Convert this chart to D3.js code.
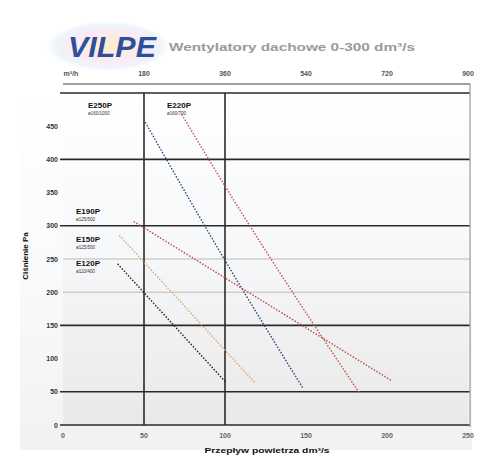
<!DOCTYPE html>
<html><head><meta charset="utf-8">
<script src="https://cdn.jsdelivr.net/npm/d3@7"></script>
<style>body{margin:0;background:#fff;} svg{display:block;font-family:"Liberation Sans",Arial,sans-serif;}</style>
</head><body>
<svg id="c" width="480" height="459"></svg>
<script>
const bottomTicks = [0,50,100,150,200,250];
const topTickLabels = ["m³/h","180","360","540","720","900"];
const yTicks = [0,50,100,150,200,250,300,350,400,450];
const boldY = [0,50,150,300,400,500];
const lightY = [200,250];
const boldX = [50,100];

const seriesNames = ["E250P","E220P","E190P","E150P","E120P"];
const seriesSub = ["ø160/1000","ø160/700","ø125/500","ø125/500","ø110/400"];
const seriesColors = ["#2e3f78","#c8504a","#b8483c","#e3a56a","#222222"];
const blueVals = [[51,455],[100,248],[148,56]];
const redSteepVals = [[73.5,467],[101,356],[183,48]];
const redFlatVals = [[44,306],[202,68]];
const orangeVals = [[35,285],[118,65]];
const blackVals = [[34,242],[101,63]];
const seriesVals = [blueVals, redSteepVals, redFlatVals, orangeVals, blackVals];

const svg = d3.select("#c");
const x = d3.scaleLinear().domain([0,250]).range([63,468]);
const y = d3.scaleLinear().domain([0,500]).range([425,93]);

const defs = svg.append("defs");
const g1 = defs.append("linearGradient").attr("id","bg").attr("x1",0).attr("y1",0).attr("x2",0).attr("y2",1);
g1.append("stop").attr("offset","0%").attr("stop-color","#ffffff");
g1.append("stop").attr("offset","45%").attr("stop-color","#f7f8fa");
g1.append("stop").attr("offset","100%").attr("stop-color","#e9e9e9");
const g2 = defs.append("radialGradient").attr("id","logo");
g2.append("stop").attr("offset","0%").attr("stop-color","#fdf0c8");
g2.append("stop").attr("offset","55%").attr("stop-color","#fbeaf0");
g2.append("stop").attr("offset","85%").attr("stop-color","#eef4fb");
g2.append("stop").attr("offset","100%").attr("stop-color","#ffffff");

// soft background behind axes
svg.append("rect").attr("x",20).attr("y",y(500)).attr("width",x(250)-20+4).attr("height",y(0)-y(500)+25).attr("fill","url(#bg)").attr("opacity",0.6);
// plot background
svg.append("rect").attr("x",x(0)).attr("y",y(500)).attr("width",x(250)-x(0)).attr("height",y(0)-y(500)).attr("fill","url(#bg)");

// logo
svg.append("ellipse").attr("cx",108).attr("cy",46).attr("rx",62).attr("ry",25).attr("fill","url(#logo)");
svg.append("text").attr("x",68).attr("y",57).attr("font-size",29).attr("font-weight","bold").attr("font-style","italic")
  .attr("fill","#2d4f9e").attr("textLength",88).attr("lengthAdjust","spacingAndGlyphs").text("VILPE");
svg.append("text").attr("x",169).attr("y",51).attr("font-size",11.5).attr("font-weight","bold").attr("fill","#9a9a9a")
  .attr("textLength",246).attr("lengthAdjust","spacingAndGlyphs")
  .text("Wentylatory dachowe 0-300 dm³/s");

// gridlines
const gl = svg.append("g");
gl.selectAll(".ly").data(lightY).join("line").attr("x1",x(0)).attr("x2",x(250)+2)
  .attr("y1",d=>y(d)).attr("y2",d=>y(d)).attr("stroke","#bbb").attr("stroke-width",1);
gl.selectAll(".by").data(boldY).join("line").attr("x1",x(0)-3).attr("x2",x(250)+2)
  .attr("y1",d=>y(d)).attr("y2",d=>y(d)).attr("stroke","#2a2a2a").attr("stroke-width",1.6);
gl.selectAll(".bx").data(boldX).join("line").attr("x1",d=>x(d)).attr("x2",d=>x(d))
  .attr("y1",y(500)).attr("y2",y(0)).attr("stroke","#2a2a2a").attr("stroke-width",1.6);
gl.append("line").attr("x1",x(250)+2).attr("x2",x(250)+2).attr("y1",y(500)-9).attr("y2",y(0)+2).attr("stroke","#999").attr("stroke-width",1.2);
// top axis line
gl.append("line").attr("x1",x(0)).attr("x2",x(250)+2).attr("y1",84).attr("y2",84).attr("stroke","#444").attr("stroke-width",1.2);

// axes labels
const ax = svg.append("g").attr("font-size",7).attr("font-weight","bold").attr("fill","#333");
ax.selectAll(".yt").data(yTicks).join("text").attr("x",58).attr("y",d=>y(d)+2.5).attr("text-anchor","end").text(d=>d);
ax.selectAll(".bt").data(bottomTicks).join("text").attr("x",d=>x(d)).attr("y",438).attr("text-anchor","middle").attr("fill","#666").text(d=>d);
ax.selectAll(".tt").data(bottomTicks).join("text").attr("x",(d,i)=>x(d)+(i===0?8:0)).attr("y",76).attr("text-anchor","middle").attr("fill","#555").text((d,i)=>topTickLabels[i]);
svg.append("text").attr("x",267).attr("y",453).attr("text-anchor","middle").attr("font-size",8).attr("font-weight","bold").attr("fill","#111")
  .attr("textLength",125).attr("lengthAdjust","spacingAndGlyphs")
  .text("Przepływ powietrza dm³/s");
svg.append("text").attr("transform","translate(28,256) rotate(-90)").attr("text-anchor","middle").attr("font-size",8).attr("font-weight","bold").attr("fill","#111")
  .text("Ciśnienie Pa");

// curves
const line = d3.line().x(d=>x(d[0])).y(d=>y(d[1])).curve(d3.curveMonotoneX);
svg.selectAll(".s").data(seriesVals).join("path").attr("d",d=>line(d)).attr("fill","none")
  .attr("stroke",(d,i)=>seriesColors[i]).attr("stroke-width",1.6).attr("stroke-dasharray","0.1,3").attr("stroke-linecap","round");

// series labels
const labPos = [[88,108],[167,108],[76,214],[76,242],[76,266]];
const lab = svg.append("g");
labPos.forEach((p,i)=>{
  lab.append("text").attr("x",p[0]).attr("y",p[1]).attr("font-size",8).attr("font-weight","bold").attr("fill","#111").text(seriesNames[i]);
  lab.append("text").attr("x",p[0]).attr("y",p[1]+7).attr("font-size",4.5).attr("fill","#333").text(seriesSub[i]);
});
</script>
</body></html>
